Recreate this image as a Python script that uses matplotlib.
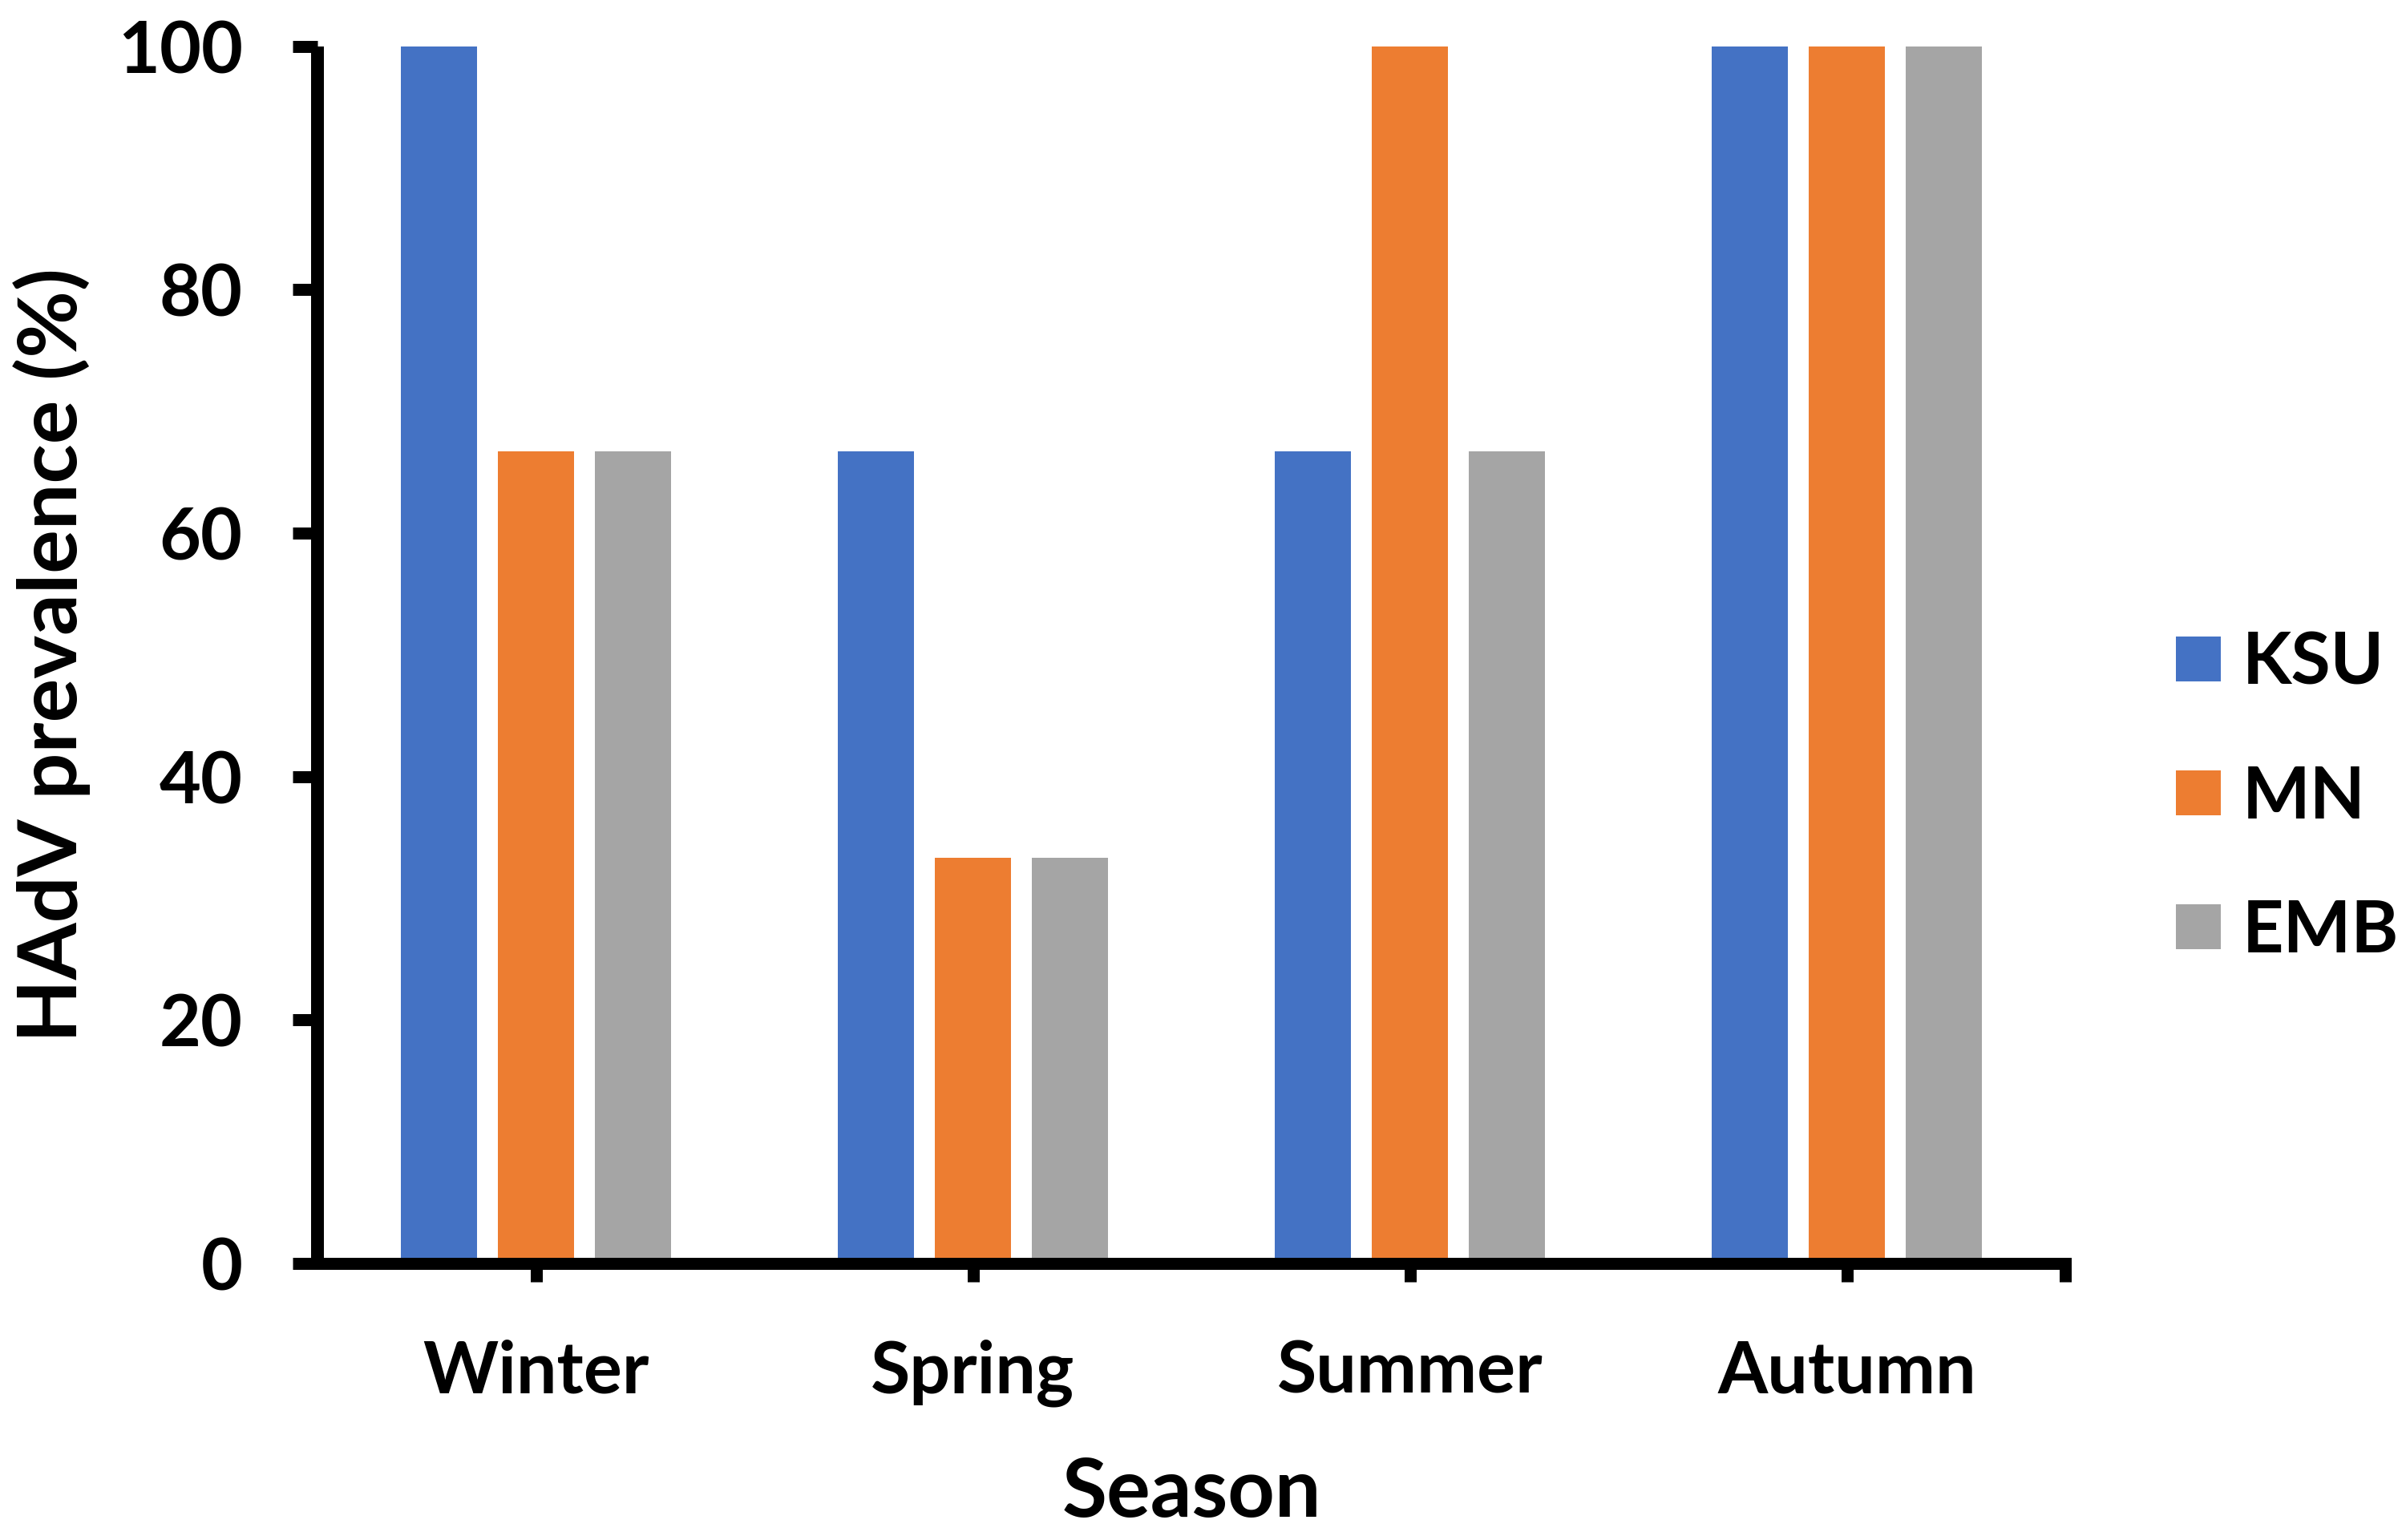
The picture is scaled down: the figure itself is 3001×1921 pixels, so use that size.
import matplotlib
matplotlib.use("Agg")
import matplotlib.pyplot as plt
import numpy as np

seasons = ["Winter", "Spring", "Summer", "Autumn"]
series_names = ["KSU", "MN", "EMB"]
ksu = [100, 66.7, 66.7, 100]
mn = [66.7, 33.3, 100, 100]
emb = [66.7, 33.3, 66.7, 100]
colors = ["#4472C4", "#ED7D31", "#A5A5A5"]
yticks = [0, 20, 40, 60, 80, 100]

plt.rcParams['font.family'] = ['Lato', 'DejaVu Sans']
plt.rcParams['font.weight'] = 'bold'

W, H = 3001, 1921
fig = plt.figure(figsize=(W / 300, H / 300), dpi=300)
ax = fig.add_axes([396 / W, 1 - 1576 / H, (2576 - 396) / W, (1576 - 57.5) / H])

x = np.arange(len(seasons))
bw = 0.176
pitch = 0.222
for i, (vals, name) in enumerate(zip([ksu, mn, emb], series_names)):
    ax.bar(x + (i - 1) * pitch, vals, width=bw, color=colors[i], label=name, zorder=2)

ax.set_xlim(-0.5, 3.5)
ax.set_ylim(0, 100)
ax.set_yticks(yticks)
ax.set_xticks(x)
ax.set_xticklabels(seasons)
ax.set_xticks([3.5], minor=True)

for s in ["top", "right"]:
    ax.spines[s].set_visible(False)
ax.spines["left"].set_linewidth(3.84)
ax.spines["bottom"].set_linewidth(3.6)
ax.spines["left"].set_capstyle('butt')

ax.tick_params(axis='y', which='major', direction='out', length=7.4, width=3.6,
               labelsize=21.5, pad=15)
ax.tick_params(axis='x', which='major', direction='out', length=5.6, width=3.6,
               labelsize=21.5, pad=17)
ax.tick_params(axis='x', which='minor', direction='out', length=5.6, width=3.6)
for lab in ax.get_xticklabels() + ax.get_yticklabels():
    lab.set_fontweight('bold')

ax.set_xlabel("Season", fontsize=24.5, fontweight='bold', labelpad=15)
ax.set_ylabel("HAdV prevalence (%)", fontsize=24.5, fontweight='bold', labelpad=8)

fs = 21.5
leg = fig.legend(loc='center left', bbox_to_anchor=(2714 / W, 1 - 994.5 / H),
                 frameon=False, borderpad=0, borderaxespad=0,
                 prop={'size': fs, 'weight': 'bold'},
                 handlelength=0.625, handleheight=0.58, handletextpad=0.30,
                 labelspacing=0.95)

fig.savefig("out.png", dpi=300)
